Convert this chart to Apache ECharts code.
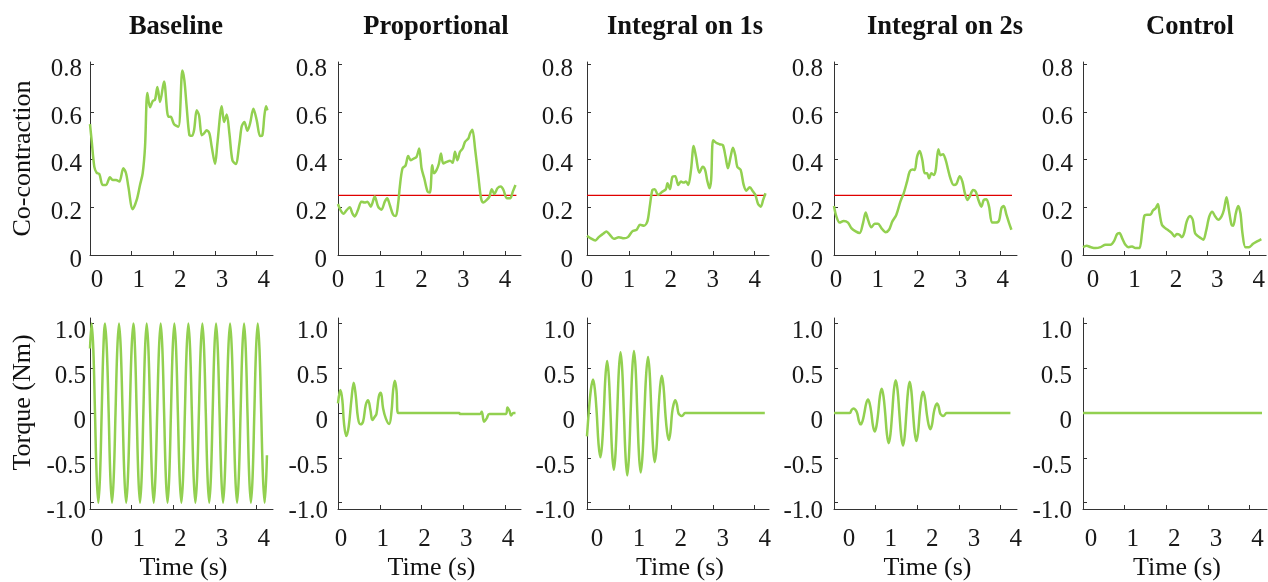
<!DOCTYPE html>
<html>
<head>
<meta charset="utf-8">
<script src="https://cdn.jsdelivr.net/npm/echarts@6/dist/echarts.min.js"></script>
<style>
html,body{margin:0;padding:0;background:#fff;}
#chart{width:1268px;height:582px;}
</style>
</head>
<body>
<div id="chart"></div>
<script>
// ---------- data ----------
const panelTitles = ['Baseline', 'Proportional', 'Integral on 1s', 'Integral on 2s', 'Control'];
const xTicks = [0, 1, 2, 3, 4];
const cocoTicks = [0, 0.2, 0.4, 0.6, 0.8];
const torqueTicks = [-1, -0.5, 0, 0.5, 1];
const cocoName = 'Co-contraction';
const torqueName = 'Torque (Nm)';
const timeName = 'Time (s)';
const thresholdValue = 0.25;
const thresholdSpan = [0, 4.27];

const baselineCoco = [[0,0.549],[0.04,0.48],[0.104,0.37],[0.16,0.345],[0.224,0.34],[0.304,0.294],[0.384,0.294],[0.48,0.326],[0.544,0.315],[0.624,0.315],[0.704,0.308],[0.8,0.364],[0.864,0.343],[0.92,0.287],[1.024,0.192],[1.12,0.231],[1.2,0.294],[1.264,0.343],[1.32,0.454],[1.376,0.68],[1.44,0.62],[1.504,0.646],[1.56,0.652],[1.616,0.705],[1.68,0.642],[1.776,0.728],[1.88,0.58],[1.936,0.58],[2.016,0.549],[2.12,0.538],[2.216,0.774],[2.264,0.733],[2.32,0.62],[2.384,0.503],[2.44,0.5],[2.496,0.524],[2.56,0.607],[2.616,0.586],[2.68,0.503],[2.736,0.51],[2.8,0.524],[2.864,0.51],[2.92,0.454],[3.0,0.382],[3.056,0.468],[3.16,0.624],[3.216,0.558],[3.28,0.59],[3.344,0.51],[3.416,0.398],[3.496,0.382],[3.584,0.468],[3.64,0.54],[3.704,0.558],[3.776,0.521],[3.84,0.552],[3.92,0.614],[4.0,0.565],[4.08,0.499],[4.136,0.503],[4.184,0.586],[4.224,0.624],[4.256,0.607]];
const proportionalCoco = [[0,0.214],[0.056,0.19],[0.136,0.173],[0.2,0.187],[0.28,0.2],[0.344,0.175],[0.4,0.162],[0.48,0.19],[0.56,0.224],[0.64,0.22],[0.704,0.224],[0.784,0.203],[0.88,0.245],[0.96,0.203],[1.04,0.19],[1.12,0.224],[1.176,0.238],[1.24,0.21],[1.32,0.169],[1.384,0.164],[1.44,0.217],[1.48,0.287],[1.544,0.364],[1.616,0.375],[1.68,0.415],[1.744,0.398],[1.816,0.405],[1.88,0.412],[1.944,0.447],[2.0,0.364],[2.064,0.322],[2.144,0.266],[2.2,0.262],[2.256,0.377],[2.296,0.343],[2.36,0.357],[2.416,0.384],[2.464,0.426],[2.52,0.384],[2.6,0.391],[2.68,0.396],[2.744,0.387],[2.8,0.433],[2.856,0.398],[2.92,0.433],[2.984,0.447],[3.04,0.475],[3.12,0.489],[3.16,0.51],[3.216,0.526],[3.28,0.447],[3.36,0.329],[3.424,0.238],[3.48,0.22],[3.56,0.231],[3.624,0.245],[3.68,0.276],[3.744,0.256],[3.816,0.28],[3.896,0.287],[3.96,0.273],[4.04,0.238],[4.12,0.238],[4.184,0.266],[4.248,0.294]];
const integral1Coco = [[0,0.081],[0.08,0.071],[0.2,0.061],[0.28,0.075],[0.384,0.089],[0.464,0.099],[0.544,0.085],[0.64,0.068],[0.76,0.075],[0.88,0.07],[0.976,0.075],[1.08,0.099],[1.184,0.106],[1.264,0.127],[1.36,0.123],[1.44,0.141],[1.496,0.203],[1.56,0.273],[1.616,0.276],[1.696,0.252],[1.8,0.266],[1.88,0.276],[1.92,0.301],[1.976,0.276],[2.04,0.329],[2.104,0.331],[2.176,0.294],[2.24,0.308],[2.304,0.304],[2.36,0.308],[2.416,0.294],[2.48,0.357],[2.544,0.457],[2.6,0.412],[2.68,0.345],[2.76,0.37],[2.816,0.357],[2.864,0.315],[2.92,0.28],[2.96,0.315],[3.008,0.482],[3.08,0.471],[3.16,0.465],[3.24,0.461],[3.304,0.412],[3.36,0.364],[3.424,0.412],[3.48,0.45],[3.536,0.419],[3.584,0.37],[3.664,0.357],[3.736,0.294],[3.8,0.27],[3.88,0.284],[3.96,0.266],[4.016,0.252],[4.08,0.214],[4.144,0.203],[4.2,0.231],[4.256,0.259]];
const integral2Coco = [[0,0.206],[0.056,0.162],[0.136,0.136],[0.232,0.143],[0.336,0.136],[0.416,0.113],[0.52,0.099],[0.616,0.092],[0.696,0.134],[0.76,0.178],[0.816,0.148],[0.896,0.116],[0.976,0.131],[1.056,0.131],[1.136,0.113],[1.24,0.096],[1.32,0.106],[1.4,0.141],[1.496,0.169],[1.592,0.224],[1.672,0.259],[1.752,0.308],[1.816,0.35],[1.88,0.359],[1.936,0.357],[1.992,0.412],[2.056,0.437],[2.12,0.398],[2.176,0.343],[2.232,0.343],[2.28,0.322],[2.336,0.343],[2.392,0.336],[2.44,0.357],[2.504,0.444],[2.552,0.419],[2.616,0.423],[2.68,0.398],[2.736,0.359],[2.792,0.322],[2.872,0.294],[2.936,0.298],[3.016,0.331],[3.08,0.308],[3.136,0.262],[3.2,0.231],[3.256,0.245],[3.336,0.273],[3.4,0.266],[3.464,0.231],[3.536,0.203],[3.592,0.231],[3.656,0.234],[3.72,0.203],[3.792,0.136],[3.88,0.136],[3.96,0.145],[4.016,0.196],[4.072,0.206],[4.136,0.169],[4.2,0.134],[4.256,0.106]];
const controlCoco = [[0,0.033],[0.088,0.039],[0.184,0.033],[0.304,0.029],[0.424,0.033],[0.544,0.043],[0.664,0.043],[0.744,0.057],[0.824,0.088],[0.88,0.092],[0.944,0.071],[1.024,0.043],[1.104,0.033],[1.184,0.036],[1.264,0.029],[1.36,0.029],[1.424,0.092],[1.48,0.164],[1.544,0.169],[1.624,0.169],[1.688,0.187],[1.752,0.196],[1.808,0.214],[1.848,0.175],[1.904,0.127],[1.984,0.113],[2.064,0.103],[2.144,0.092],[2.208,0.078],[2.264,0.088],[2.328,0.085],[2.384,0.075],[2.44,0.092],[2.504,0.141],[2.584,0.164],[2.648,0.148],[2.704,0.092],[2.784,0.078],[2.84,0.071],[2.904,0.064],[2.968,0.099],[3.048,0.162],[3.12,0.182],[3.184,0.164],[3.264,0.148],[3.344,0.162],[3.4,0.189],[3.464,0.242],[3.52,0.189],[3.584,0.127],[3.624,0.123],[3.688,0.175],[3.744,0.206],[3.8,0.175],[3.848,0.092],[3.92,0.033],[4.008,0.033],[4.104,0.047],[4.2,0.057],[4.304,0.067]];

const baselineTorque = [[0,0.72],[0.04,1],[0.08,0.707],[0.12,0],[0.16,-0.707],[0.2,-1],[0.24,-0.707],[0.28,0],[0.32,0.707],[0.36,1],[0.404,0.707],[0.448,0],[0.488,-0.707],[0.528,-1],[0.57,-0.707],[0.612,0],[0.654,0.707],[0.696,1],[0.739,0.707],[0.782,0],[0.825,-0.707],[0.868,-1],[0.911,-0.707],[0.954,0],[0.997,0.707],[1.04,1],[1.08,0.707],[1.12,0],[1.16,-0.707],[1.2,-1],[1.24,-0.707],[1.28,0],[1.32,0.707],[1.36,1],[1.402,0.707],[1.444,0],[1.486,-0.707],[1.528,-1],[1.57,-0.707],[1.612,0],[1.654,0.707],[1.696,1],[1.737,0.707],[1.778,0],[1.819,-0.707],[1.86,-1],[1.901,-0.707],[1.942,0],[1.983,0.707],[2.024,1],[2.066,0.707],[2.108,0],[2.15,-0.707],[2.192,-1],[2.234,-0.707],[2.276,0],[2.318,0.707],[2.36,1],[2.402,0.707],[2.444,0],[2.486,-0.707],[2.528,-1],[2.57,-0.707],[2.612,0],[2.654,0.707],[2.696,1],[2.737,0.707],[2.778,0],[2.819,-0.707],[2.86,-1],[2.901,-0.707],[2.942,0],[2.983,0.707],[3.024,1],[3.066,0.707],[3.108,0],[3.15,-0.707],[3.192,-1],[3.234,-0.707],[3.276,0],[3.318,0.707],[3.36,1],[3.402,0.707],[3.444,0],[3.486,-0.707],[3.528,-1],[3.57,-0.707],[3.612,0],[3.654,0.707],[3.696,1],[3.737,0.707],[3.778,0],[3.819,-0.707],[3.86,-1],[3.901,-0.707],[3.942,0],[3.983,0.707],[4.024,1],[4.066,0.707],[4.107,0],[4.149,-0.707],[4.19,-1],[4.245,-0.47]];
const proportionalTorque = [[0,0.107],[0.056,0.256],[0.104,0.144],[0.144,-0.115],[0.2,-0.256],[0.256,-0.152],[0.32,0.144],[0.376,0.337],[0.424,0.2],[0.48,-0.059],[0.536,-0.126],[0.6,-0.096],[0.664,0.089],[0.72,0.144],[0.776,0.033],[0.824,-0.078],[0.88,-0.041],[0.92,-0.011],[0.976,0.181],[1.024,0.226],[1.08,0.052],[1.144,-0.059],[1.224,-0.122],[1.28,0.015],[1.32,0.256],[1.36,0.359],[1.4,0.256],[1.44,0],[2.9,0],[2.92,-0.01],[3.4,-0.01],[3.44,0.015],[3.496,-0.096],[3.56,-0.059],[3.624,-0.01],[4.02,-0.01],[4.056,0.063],[4.104,0.026],[4.144,-0.026],[4.2,0],[4.248,0]];
const integral1Torque = [[0,-0.26],[0.04,0],[0.092,0.26],[0.144,0.374],[0.188,0.26],[0.232,0],[0.276,-0.35],[0.32,-0.493],[0.36,-0.35],[0.4,0],[0.44,0.41],[0.48,0.581],[0.52,0.41],[0.56,0],[0.6,-0.45],[0.64,-0.633],[0.68,-0.45],[0.72,0],[0.76,0.48],[0.8,0.678],[0.84,0.48],[0.88,0],[0.92,-0.49],[0.96,-0.696],[1.0,-0.49],[1.04,0],[1.08,0.49],[1.12,0.693],[1.16,0.49],[1.2,0],[1.24,-0.47],[1.28,-0.663],[1.324,-0.47],[1.368,0],[1.412,0.44],[1.456,0.626],[1.496,0.44],[1.536,0],[1.576,-0.39],[1.616,-0.548],[1.658,-0.39],[1.7,0],[1.742,0.29],[1.784,0.415],[1.826,0.29],[1.868,0],[1.91,-0.21],[1.952,-0.3],[1.99,-0.21],[2.028,0],[2.066,0.1],[2.104,0.144],[2.142,0.1],[2.18,0],[2.218,-0.023],[2.256,-0.033],[2.296,-0.02],[2.336,0],[4.24,0]];
const integral2Torque = [[0,0],[0.376,0],[0.424,0.037],[0.472,0.052],[0.514,0.037],[0.556,0],[0.598,-0.089],[0.64,-0.126],[0.684,-0.089],[0.728,0],[0.772,0.107],[0.816,0.152],[0.856,0.107],[0.896,0],[0.936,-0.146],[0.976,-0.207],[1.018,-0.146],[1.06,0],[1.102,0.19],[1.144,0.27],[1.186,0.19],[1.228,0],[1.27,-0.238],[1.312,-0.337],[1.354,-0.238],[1.396,0],[1.438,0.26],[1.48,0.367],[1.524,0.26],[1.568,0],[1.612,-0.257],[1.656,-0.363],[1.696,-0.257],[1.736,0],[1.776,0.246],[1.816,0.348],[1.856,0.246],[1.896,0],[1.936,-0.22],[1.976,-0.311],[2.016,-0.22],[2.056,0],[2.096,0.168],[2.136,0.237],[2.18,0.168],[2.224,0],[2.268,-0.128],[2.312,-0.181],[2.352,-0.128],[2.392,0],[2.432,0.076],[2.472,0.107],[2.508,0.076],[2.544,0],[2.58,-0.023],[2.616,-0.033],[2.656,-0.02],[2.696,0],[4.232,0]];
const controlTorque = [[0,0],[4.3,0]];

const cocoSeries = [baselineCoco, proportionalCoco, integral1Coco, integral2Coco, controlCoco];
const torqueSeries = [baselineTorque, proportionalTorque, integral1Torque, integral2Torque, controlTorque];
const hasThreshold = [false, true, true, true, false];

// ---------- layout ----------
const gridLefts = [90, 338, 587, 834, 1083];
const gridWidths = [183, 183, 182, 183, 184];
const xMaxes = [4.39, 4.38, 4.34, 4.39, 4.42];
const titleCenters = [176, 436, 685, 945, 1190];
const topXLabelShift = [7, 0, 0, 2, 10];
const botXLabelShift = [7, 3, 10, 15, 8];
const topYLabelMargin = [8, 11, 14, 11, 10];
const botYLabelMargin = [4, 10, 12, 11, 11];
const ROWS = [{top: 62, height: 193, min: 0, max: 0.81, labelLH: 10}, {top: 318, height: 191, min: -1.07, max: 1.06, labelLH: 17}];

const GREEN = '#92D050';
const AXIS = '#333';
const FONT = "'Liberation Serif','Times New Roman',serif";

const grids = [], xAxes = [], yAxes = [], series = [], titles = [];
const fmt = v => (v === 0 ? '0' : v.toFixed(1));

for (let r = 0; r < 2; r++) {
  for (let c = 0; c < 5; c++) {
    const idx = r * 5 + c;
    const row = ROWS[r];
    grids.push({left: gridLefts[c], top: row.top, width: gridWidths[c], height: row.height, containLabel: false});
    const shift = r === 0 ? topXLabelShift[c] : botXLabelShift[c];
    xAxes.push({
      type: 'value', gridIndex: idx, min: 0, max: xMaxes[c],
      axisLine: {onZero: false, lineStyle: {color: AXIS, width: 1}},
      axisTick: {inside: true, length: 4, customValues: xTicks, lineStyle: {color: AXIS}},
      axisLabel: {customValues: xTicks, formatter: v => String(v), fontFamily: FONT, fontSize: 25, color: '#1a1a1a',
                  margin: r === 0 ? 13 : 18, padding: [0, 0, 0, 2 * shift]},
      splitLine: {show: false},
      name: r === 1 ? timeName : '', nameLocation: 'middle', nameGap: 46,
      nameTextStyle: {fontFamily: FONT, fontSize: 26, color: '#111', padding: [0, 0, 0, 4]}
    });
    yAxes.push({
      type: 'value', gridIndex: idx, min: row.min, max: row.max,
      axisLine: {show: true, onZero: false, lineStyle: {color: AXIS, width: 1}},
      axisTick: {show: true, inside: true, length: 4, customValues: r === 0 ? cocoTicks : torqueTicks, lineStyle: {color: AXIS}},
      axisLabel: {customValues: r === 0 ? cocoTicks : torqueTicks, formatter: fmt, fontFamily: FONT, fontSize: 25, color: '#1a1a1a',
                  margin: r === 0 ? topYLabelMargin[c] : botYLabelMargin[c],
                  verticalAlign: 'top', lineHeight: row.labelLH},
      splitLine: {show: false},
      name: c === 0 ? (r === 0 ? cocoName : torqueName) : '', nameLocation: 'middle', nameGap: 54,
      nameTextStyle: {fontFamily: FONT, fontSize: 26, color: '#111', padding: r === 1 ? [0, 0, 0, 22] : [0, 0, 0, 0]}
    });
    series.push({
      type: 'line', xAxisIndex: idx, yAxisIndex: idx,
      data: r === 0 ? cocoSeries[c] : torqueSeries[c],
      showSymbol: false, smooth: r === 0 ? 0.3 : 0.4, animation: false,
      lineStyle: {color: GREEN, width: 2.5}, z: 3
    });
    if (r === 0 && hasThreshold[c]) {
      series.push({
        type: 'line', xAxisIndex: idx, yAxisIndex: idx,
        data: [[thresholdSpan[0], thresholdValue], [thresholdSpan[1], thresholdValue]],
        showSymbol: false, animation: false,
        lineStyle: {color: '#e00000', width: 1.2}, z: 2
      });
    }
  }
}
for (let c = 0; c < 5; c++) {
  titles.push({text: panelTitles[c], left: titleCenters[c], top: 14, textAlign: 'center', padding: 0,
               textStyle: {fontFamily: FONT, fontSize: 26.5, fontWeight: 'bold', color: '#111'}});
}

const chart = echarts.init(document.getElementById('chart'), null, {renderer: 'canvas'});
chart.setOption({
  backgroundColor: '#ffffff',
  animation: false,
  title: titles,
  grid: grids,
  xAxis: xAxes,
  yAxis: yAxes,
  series: series
});
</script>
</body>
</html>
